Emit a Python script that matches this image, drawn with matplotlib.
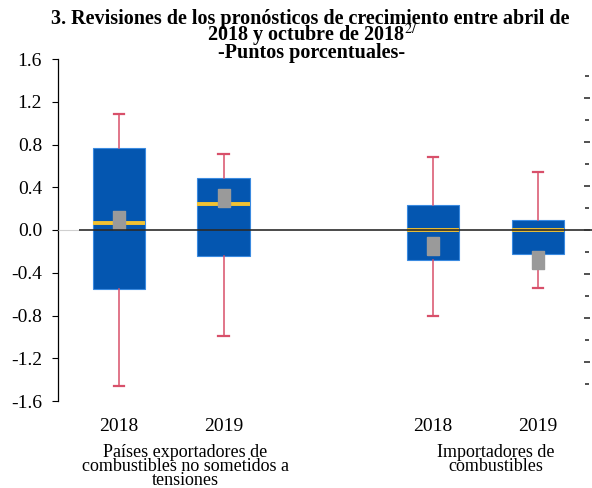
import matplotlib
matplotlib.use("Agg")
import matplotlib.pyplot as plt
from matplotlib.ticker import FixedLocator

plt.rcParams['font.family'] = ['Liberation Serif', 'DejaVu Serif']
plt.rcParams['mathtext.fontset'] = 'stix'

# ---- data ----
years = ["2018", "2019", "2018", "2019"]
groups = ["Países exportadores de\ncombustibles no sometidos a\ntensiones",
          "Importadores de\ncombustibles"]
whisker_low = [-1.46, -0.99, -0.80, -0.54]
q1 = [-0.55, -0.24, -0.28, -0.22]
median = [0.07, 0.24, 0.00, 0.00]
q3 = [0.77, 0.49, 0.23, 0.09]
whisker_high = [1.09, 0.71, 0.68, 0.54]
mean = [0.09, 0.30, -0.15, -0.28]
yticks = [1.6, 1.2, 0.8, 0.4, 0.0, -0.4, -0.8, -1.2, -1.6]

positions = [0, 1, 3, 4]

W, H = 592, 488
fig = plt.figure(figsize=(5.92, 4.88), dpi=100)
ax = fig.add_axes([58/W, 1-401/H, (587-58)/W, (401-59)/H])

stats = []
for i in range(len(years)):
    stats.append(dict(med=median[i], q1=q1[i], q3=q3[i], whislo=whisker_low[i],
                      whishi=whisker_high[i], mean=mean[i], fliers=[], label=years[i]))

mean_verts = [(-0.33, -0.5), (0.33, -0.5), (0.33, 0.5), (-0.33, 0.5), (-0.33, -0.5)]
ax.bxp(stats, positions=positions, widths=0.5, patch_artist=True, showmeans=True,
       boxprops=dict(facecolor='#0456b0', edgecolor='#3a8ae0', linewidth=0.8),
       medianprops=dict(color='#f2c232', linewidth=2.8, solid_capstyle='butt'),
       whiskerprops=dict(color='#d8506a', linewidth=1.1),
       capprops=dict(color='#d8506a', linewidth=1.6),
       capwidths=0.1,
       meanprops=dict(marker=mean_verts, markersize=12.5, markerfacecolor='#9a9a9a',
                      markeredgecolor='#9a9a9a'),
       zorder=2)

ax.set_xlim(-0.58, 4.47)
ax.set_ylim(-1.6, 1.6)
ax.hlines(0, -0.58, -0.38, color='#d0d0d0', linewidth=0.8, zorder=3)
ax.hlines(0, -0.38, 4.55, color='#2a2a2a', linewidth=1.4, alpha=0.85, zorder=4, clip_on=False)

ax.set_yticks(yticks)
ax.set_yticklabels([f"{v:.1f}" for v in yticks], fontsize=14)
ax.tick_params(axis='y', direction='out', length=4, width=0.8, pad=7.5)
ax.set_xticks(positions)
ax.set_xticklabels(years, fontsize=14)
ax.tick_params(axis='x', length=0, pad=12)

for s in ['top', 'right', 'bottom']:
    ax.spines[s].set_visible(False)
ax.spines['left'].set_linewidth(0.9)

# right-side tick marks
ax2 = ax.twinx()
ax2.set_ylim(-1.55, 1.55)
ax2.yaxis.set_major_locator(FixedLocator([-1.2, -0.8, -0.4, 0.0, 0.4, 0.8, 1.2, 1.6]))
ax2.yaxis.set_minor_locator(FixedLocator([-1.4, -1.0, -0.6, -0.2, 0.2, 0.6, 1.0, 1.4]))
ax2.tick_params(axis='y', which='major', direction='inout', length=5, width=1.2,
                labelright=False, colors='#333333')
ax2.tick_params(axis='y', which='minor', direction='inout', length=2.5, width=1.2,
                colors='#333333')
for s in ax2.spines.values():
    s.set_visible(False)

# group labels
fig.text(185/W, 1-444/H, groups[0], ha='center', va='top', fontsize=13, linespacing=0.76)
fig.text(496/W, 1-444/H, groups[1], ha='center', va='top', fontsize=13, linespacing=0.76)

# title (three lines)
fig.text(310/W, 1-24/H, "3. Revisiones de los pronósticos de crecimiento entre abril de",
         ha='center', va='baseline', fontsize=14.5, fontweight='bold')
fig.text(207/W, 1-41/H, "2018 y octubre de 2018$^{2/}$",
         ha='left', va='baseline', fontsize=14.5, fontweight='bold')
fig.text(312/W, 1-58/H, "-Puntos porcentuales-",
         ha='center', va='baseline', fontsize=14.5, fontweight='bold')

fig.savefig("out.png", dpi=100)
